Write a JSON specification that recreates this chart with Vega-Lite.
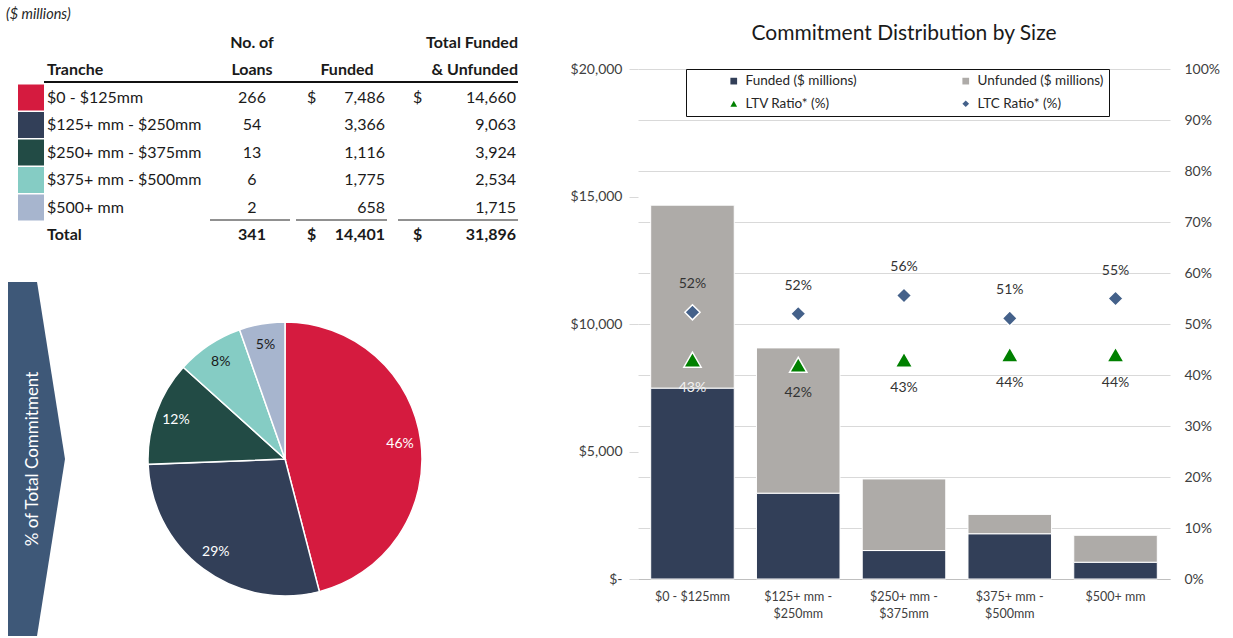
{
  "$schema": "https://vega.github.io/schema/vega-lite/v6.json",
  "padding": {"top": 7, "left": 0, "right": 0, "bottom": 0},
  "background": "white",
  "config": {"view": {"stroke": null}, "font": "Lato"},
  "datasets": {
    "tranches": [
      {"tranche": "$0 - $125mm", "loans": 266, "funded": 7486, "unfunded": 7174, "total": 14660, "pct": "46%", "ltv": 0.43, "ltc": 0.523},
      {"tranche": "$125+ mm - $250mm", "loans": 54, "funded": 3366, "unfunded": 5697, "total": 9063, "pct": "29%", "ltv": 0.42, "ltc": 0.52},
      {"tranche": "$250+ mm - $375mm", "loans": 13, "funded": 1116, "unfunded": 2808, "total": 3924, "pct": "12%", "ltv": 0.43, "ltc": 0.556},
      {"tranche": "$375+ mm - $500mm", "loans": 6, "funded": 1775, "unfunded": 759, "total": 2534, "pct": "8%", "ltv": 0.44, "ltc": 0.511},
      {"tranche": "$500+ mm", "loans": 2, "funded": 658, "unfunded": 1057, "total": 1715, "pct": "5%", "ltv": 0.44, "ltc": 0.55}
    ],
    "totals": [{"tranche": "Total", "loans": 341, "funded": 14401, "total": 31896}]
  },
  "spacing": 45,
  "resolve": {"scale": {"color": "independent", "shape": "independent"}, "legend": {"color": "independent", "shape": "independent"}},
  "hconcat": [
    {
      "spacing": 33,
      "vconcat": [
        {
          "width": 525,
          "height": 180,
          "data": {"name": "tranches"},
          "layer": [
            {
              "data": {"values": [{}]},
              "mark": {"type": "text", "align": "left", "fontStyle": "italic", "fontSize": 14.5, "dx": -12, "color": "#262626"},
              "encoding": {
                "x": {"datum": "sw", "type": "nominal", "scale": {"type": "point", "domain": ["sw", "tr", "ln", "fs", "fv", "ts", "tv"], "range": [18, 516], "padding": 0}, "axis": null},
                "y": {"datum": "h0", "type": "nominal", "scale": {"type": "point", "domain": ["h0", "h1", "h2", "$0 - $125mm", "$125+ mm - $250mm", "$250+ mm - $375mm", "$375+ mm - $500mm", "$500+ mm", "Total"], "range": [-54, 166], "padding": 0}, "axis": null},
                "text": {"value": "($ millions)"}
              }
            },
            {
              "data": {"values": [{"t": "No. of", "c": "ln", "r": "h1"}, {"t": "Loans", "c": "ln", "r": "h2"}]},
              "mark": {"type": "text", "align": "center", "dx": 68, "fontWeight": "bold", "fontSize": 16, "color": "#1a1a1a"},
              "encoding": {
                "x": {"field": "c", "type": "nominal", "axis": null},
                "y": {"field": "r", "type": "nominal", "axis": null},
                "text": {"field": "t"}
              }
            },
            {
              "data": {"values": [{"t": "Funded", "c": "fv", "r": "h2"}]},
              "mark": {"type": "text", "align": "center", "dx": -3, "fontWeight": "bold", "fontSize": 16, "color": "#1a1a1a"},
              "encoding": {
                "x": {"field": "c", "type": "nominal", "axis": null},
                "y": {"field": "r", "type": "nominal", "axis": null},
                "text": {"field": "t"}
              }
            },
            {
              "data": {"values": [{"t": "Total Funded", "c": "tv", "r": "h1"}, {"t": "& Unfunded", "c": "tv", "r": "h2"}]},
              "mark": {"type": "text", "align": "right", "dx": 2, "fontWeight": "bold", "fontSize": 16, "color": "#1a1a1a"},
              "encoding": {
                "x": {"field": "c", "type": "nominal", "axis": null},
                "y": {"field": "r", "type": "nominal", "axis": null},
                "text": {"field": "t"}
              }
            },
            {
              "data": {"values": [{"t": "Tranche", "c": "tr", "r": "h2"}, {"t": "Total", "c": "tr", "r": "Total"}]},
              "mark": {"type": "text", "align": "left", "dx": -54, "fontWeight": "bold", "fontSize": 16, "color": "#1a1a1a"},
              "encoding": {
                "x": {"field": "c", "type": "nominal", "axis": null},
                "y": {"field": "r", "type": "nominal", "axis": null},
                "text": {"field": "t"}
              }
            },
            {
              "data": {"values": [{}]},
              "mark": {"type": "rule", "color": "#111111", "strokeWidth": 2, "xOffset": 26, "x2Offset": 2, "yOffset": 12},
              "encoding": {
                "x": {"datum": "sw", "type": "nominal", "axis": null},
                "x2": {"datum": "tv"},
                "y": {"datum": "h2", "type": "nominal", "axis": null}
              }
            },
            {
              "mark": {"type": "rect", "xOffset": 0, "x2Offset": 26, "yOffset": -13, "y2Offset": 13},
              "encoding": {
                "x": {"datum": "sw", "type": "nominal", "axis": null},
                "x2": {"datum": "sw"},
                "y": {"field": "tranche", "type": "nominal", "axis": null},
                "y2": {"field": "tranche"},
                "color": {"field": "tranche", "type": "nominal", "legend": null, "scale": {"domain": ["$0 - $125mm", "$125+ mm - $250mm", "$250+ mm - $375mm", "$375+ mm - $500mm", "$500+ mm"], "range": ["#D51B3F", "#323F58", "#224B45", "#85CCC4", "#A7B5CE"]}}
              }
            },
            {
              "mark": {"type": "text", "align": "left", "dx": -54, "fontSize": 16, "color": "#1a1a1a"},
              "encoding": {
                "x": {"datum": "tr", "type": "nominal", "axis": null},
                "y": {"field": "tranche", "type": "nominal", "axis": null},
                "text": {"field": "tranche"}
              }
            },
            {
              "mark": {"type": "text", "align": "center", "dx": 68, "fontSize": 16, "color": "#1a1a1a"},
              "encoding": {
                "x": {"datum": "ln", "type": "nominal", "axis": null},
                "y": {"field": "tranche", "type": "nominal", "axis": null},
                "text": {"field": "loans", "type": "quantitative", "format": ","}
              }
            },
            {
              "mark": {"type": "text", "align": "right", "dx": 35, "fontSize": 16, "color": "#1a1a1a"},
              "encoding": {
                "x": {"datum": "fv", "type": "nominal", "axis": null},
                "y": {"field": "tranche", "type": "nominal", "axis": null},
                "text": {"field": "funded", "type": "quantitative", "format": ","}
              }
            },
            {
              "mark": {"type": "text", "align": "right", "dx": 0, "fontSize": 16, "color": "#1a1a1a"},
              "encoding": {
                "x": {"datum": "tv", "type": "nominal", "axis": null},
                "y": {"field": "tranche", "type": "nominal", "axis": null},
                "text": {"field": "total", "type": "quantitative", "format": ","}
              }
            },
            {
              "data": {"values": [{}]},
              "mark": {"type": "text", "align": "left", "dx": 40, "fontSize": 16, "color": "#1a1a1a"},
              "encoding": {
                "x": {"datum": "fs", "type": "nominal", "axis": null},
                "y": {"datum": "$0 - $125mm", "type": "nominal", "axis": null},
                "text": {"value": "$"}
              }
            },
            {
              "data": {"values": [{}]},
              "mark": {"type": "text", "align": "left", "dx": -20, "fontSize": 16, "color": "#1a1a1a"},
              "encoding": {
                "x": {"datum": "ts", "type": "nominal", "axis": null},
                "y": {"datum": "$0 - $125mm", "type": "nominal", "axis": null},
                "text": {"value": "$"}
              }
            },
            {
              "data": {"values": [{}]},
              "mark": {"type": "rule", "color": "#222222", "strokeWidth": 1, "xOffset": 26, "x2Offset": 106, "yOffset": -15},
              "encoding": {
                "x": {"datum": "ln", "type": "nominal", "axis": null},
                "x2": {"datum": "ln"},
                "y": {"datum": "Total", "type": "nominal", "axis": null}
              }
            },
            {
              "data": {"values": [{}]},
              "mark": {"type": "rule", "color": "#222222", "strokeWidth": 1, "xOffset": 29, "x2Offset": 37, "yOffset": -15},
              "encoding": {
                "x": {"datum": "fs", "type": "nominal", "axis": null},
                "x2": {"datum": "fv"},
                "y": {"datum": "Total", "type": "nominal", "axis": null}
              }
            },
            {
              "data": {"values": [{}]},
              "mark": {"type": "rule", "color": "#222222", "strokeWidth": 1, "xOffset": -35, "x2Offset": 2, "yOffset": -15},
              "encoding": {
                "x": {"datum": "ts", "type": "nominal", "axis": null},
                "x2": {"datum": "tv"},
                "y": {"datum": "Total", "type": "nominal", "axis": null}
              }
            },
            {
              "data": {"name": "totals"},
              "mark": {"type": "text", "align": "center", "dx": 68, "fontWeight": "bold", "fontSize": 16, "color": "#1a1a1a"},
              "encoding": {
                "x": {"datum": "ln", "type": "nominal", "axis": null},
                "y": {"field": "tranche", "type": "nominal", "axis": null},
                "text": {"field": "loans", "type": "quantitative", "format": ","}
              }
            },
            {
              "data": {"name": "totals"},
              "mark": {"type": "text", "align": "right", "dx": 35, "fontWeight": "bold", "fontSize": 16, "color": "#1a1a1a"},
              "encoding": {
                "x": {"datum": "fv", "type": "nominal", "axis": null},
                "y": {"field": "tranche", "type": "nominal", "axis": null},
                "text": {"field": "funded", "type": "quantitative", "format": ","}
              }
            },
            {
              "data": {"name": "totals"},
              "mark": {"type": "text", "align": "right", "fontWeight": "bold", "fontSize": 16, "color": "#1a1a1a"},
              "encoding": {
                "x": {"datum": "tv", "type": "nominal", "axis": null},
                "y": {"field": "tranche", "type": "nominal", "axis": null},
                "text": {"field": "total", "type": "quantitative", "format": ","}
              }
            },
            {
              "data": {"values": [{}]},
              "mark": {"type": "text", "align": "left", "dx": 40, "fontWeight": "bold", "fontSize": 16, "color": "#1a1a1a"},
              "encoding": {
                "x": {"datum": "fs", "type": "nominal", "axis": null},
                "y": {"datum": "Total", "type": "nominal", "axis": null},
                "text": {"value": "$"}
              }
            },
            {
              "data": {"values": [{}]},
              "mark": {"type": "text", "align": "left", "dx": -20, "fontWeight": "bold", "fontSize": 16, "color": "#1a1a1a"},
              "encoding": {
                "x": {"datum": "ts", "type": "nominal", "axis": null},
                "y": {"datum": "Total", "type": "nominal", "axis": null},
                "text": {"value": "$"}
              }
            }
          ]
        },
        {
          "spacing": 0,
          "hconcat": [
            {
              "width": 73,
              "height": 354,
              "data": {"values": [{"label": "% of Total Commitment"}]},
              "layer": [
                {
                  "mark": {"type": "point", "shape": "M-0.161,-1L0.003,-1L0.161,0L0.003,1L-0.161,1Z", "size": 125316, "filled": true, "color": "#3E5878", "opacity": 1, "strokeWidth": 0},
                  "encoding": {}
                },
                {
                  "mark": {"type": "text", "angle": 270, "color": "white", "fontSize": 17, "dy": -4, "baseline": "middle", "align": "center"},
                  "encoding": {"text": {"field": "label"}}
                }
              ]
            },
            {
              "width": 424,
              "height": 354,
              "data": {"name": "tranches"},
              "layer": [
                {
                  "mark": {"type": "arc", "outerRadius": 137, "stroke": "white", "strokeWidth": 1.5},
                  "encoding": {
                    "theta": {"field": "total", "type": "quantitative", "stack": true},
                    "order": {"field": "total", "type": "quantitative", "sort": "descending"},
                    "color": {"field": "tranche", "type": "nominal", "legend": null, "scale": {"domain": ["$0 - $125mm", "$125+ mm - $250mm", "$250+ mm - $375mm", "$375+ mm - $500mm", "$500+ mm"], "range": ["#D51B3F", "#323F58", "#224B45", "#85CCC4", "#A7B5CE"]}}
                  }
                },
                {
                  "mark": {"type": "text", "radius": 116, "fontSize": 14},
                  "encoding": {
                    "theta": {"field": "total", "type": "quantitative", "stack": true},
                    "order": {"field": "total", "type": "quantitative", "sort": "descending"},
                    "text": {"field": "pct"},
                    "color": {"condition": {"test": "datum.total < 3000", "value": "#1a1a1a"}, "value": "white"}
                  }
                }
              ]
            }
          ]
        }
      ]
    },
    {
      "width": 532,
      "height": 510,
      "title": {"text": "Commitment Distribution by Size", "fontSize": 21, "fontWeight": "normal", "color": "#1a1a1a", "anchor": "middle", "offset": 18},
      "data": {"name": "tranches"},
      "resolve": {"scale": {"y": "independent"}},
      "layer": [
        {
          "transform": [{"fold": ["funded", "unfunded"], "as": ["series", "amount"]}],
          "mark": {"type": "bar", "stroke": "white", "strokeWidth": 1},
          "encoding": {
            "x": {
              "field": "tranche", "type": "nominal", "title": null,
              "scale": {"domain": ["$0 - $125mm", "$125+ mm - $250mm", "$250+ mm - $375mm", "$375+ mm - $500mm", "$500+ mm"], "paddingInner": 0.21, "paddingOuter": 0.12},
              "axis": {"labelAngle": 0, "labelExpr": "indexof(datum.value, '+ mm - ') > 0 ? [slice(datum.value, 0, indexof(datum.value, ' $')), slice(datum.value, indexof(datum.value, ' $') + 1)] : datum.value", "domain": true, "domainColor": "#BFBFBF", "ticks": false, "labelPadding": 11, "labelFontSize": 12.5, "labelColor": "#404040", "labelLineHeight": 17, "labelBaseline": "top"}
            },
            "y": {
              "field": "amount", "type": "quantitative", "stack": "zero", "title": null,
              "scale": {"domain": [0, 20000]},
              "axis": {"orient": "left", "values": [0, 5000, 10000, 15000, 20000], "labelExpr": "datum.value === 0 ? '$-' : '$' + format(datum.value, ',')", "grid": false, "domain": false, "ticks": true, "tickSize": 9, "tickColor": "#D9D9D9", "labelPadding": 7, "labelFontSize": 14, "labelColor": "#404040"}
            },
            "order": {"field": "series", "type": "nominal", "sort": "ascending"},
            "color": {
              "field": "series", "type": "nominal",
              "scale": {"domain": ["funded", "unfunded", "ltv", "ltc"], "range": ["#323F58", "#AEABA8", "#008000", "#44618A"]},
              "legend": {
                "orient": "none", "legendX": 48, "legendY": 0, "columns": 2, "direction": "horizontal", "columnPadding": 102, "rowPadding": 8,
                "padding": 5, "strokeColor": "#111111",
                "title": " ", "titleOrient": "left", "titlePadding": 36, "titleFontSize": 13,
                "symbolSize": 45, "symbolStrokeWidth": 0, "labelFontSize": 13.5, "labelColor": "#262626", "labelOffset": 5,
                "labelExpr": "datum.label === 'funded' ? 'Funded ($ millions)' : datum.label === 'unfunded' ? 'Unfunded ($ millions)' : datum.label === 'ltv' ? 'LTV Ratio* (%)' : 'LTC Ratio* (%)'"
              }
            }
          }
        },
        {
          "layer": [
            {
              "mark": {"type": "point", "filled": true, "size": 230, "opacity": 1, "stroke": "white", "strokeWidth": 1.5},
              "encoding": {
                "x": {"field": "tranche", "type": "nominal"},
                "y": {"field": "ltc", "type": "quantitative", "title": null, "scale": {"domain": [0, 1]},
                  "axis": {"orient": "right", "values": [0, 0.1, 0.2, 0.3, 0.4, 0.5, 0.6, 0.7, 0.8, 0.9, 1], "format": ".0%", "grid": true, "gridColor": "#D9D9D9", "domain": false, "ticks": false, "labelPadding": 14, "labelFontSize": 14, "labelColor": "#404040"}},
                "color": {"datum": "ltc"},
                "shape": {"datum": "ltc", "scale": {"domain": ["funded", "unfunded", "ltv", "ltc"], "range": ["square", "square", "triangle-up", "diamond"]}}
              }
            },
            {
              "mark": {"type": "point", "filled": true, "size": 300, "opacity": 1, "stroke": "white", "strokeWidth": 1.5},
              "encoding": {
                "x": {"field": "tranche", "type": "nominal"},
                "y": {"field": "ltv", "type": "quantitative", "scale": {"domain": [0, 1]}},
                "color": {"datum": "ltv"},
                "shape": {"datum": "ltv"}
              }
            },
            {
              "mark": {"type": "text", "dy": -28, "fontSize": 14},
              "encoding": {
                "x": {"field": "tranche", "type": "nominal"},
                "y": {"field": "ltc", "type": "quantitative", "scale": {"domain": [0, 1]}},
                "text": {"field": "ltc", "type": "quantitative", "format": ".0%"},
                "color": {"value": "#333333"}
              }
            },
            {
              "mark": {"type": "text", "dy": 28, "fontSize": 14},
              "encoding": {
                "x": {"field": "tranche", "type": "nominal"},
                "y": {"field": "ltv", "type": "quantitative", "scale": {"domain": [0, 1]}},
                "text": {"field": "ltv", "type": "quantitative", "format": ".0%"},
                "color": {"condition": {"test": "datum.tranche === '$0 - $125mm'", "value": "#F2F2F2"}, "value": "#333333"}
              }
            }
          ]
        }
      ]
    }
  ]
}
